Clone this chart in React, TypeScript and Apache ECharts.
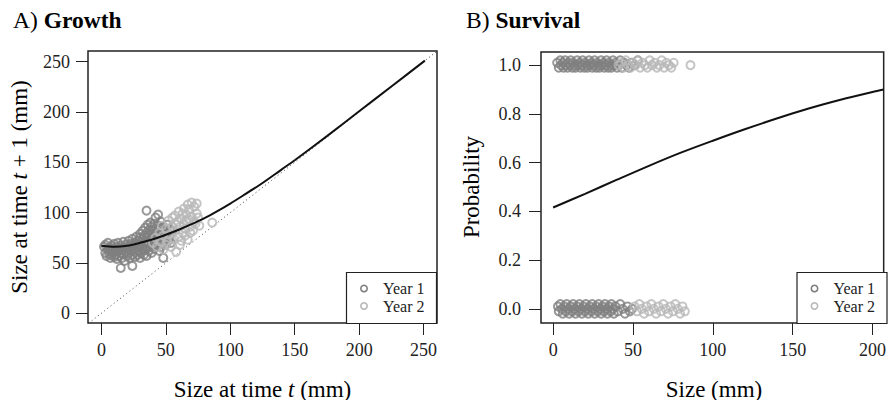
import React, { useEffect, useRef } from "react";
import * as echarts from "echarts";

// ---------- Data ----------
const growthYear1: number[][] = [
  [2, 66], [3, 60], [3, 68], [4, 57], [5, 63], [5, 70], [6, 59], [6, 65], [7, 55], [7, 62], [8, 67], [8, 58],
  [9, 64], [9, 61], [10, 56], [10, 69], [11, 63], [11, 58], [12, 66], [12, 54], [13, 61], [13, 70], [14, 57],
  [14, 64], [15, 45], [15, 60], [15, 67], [16, 55], [16, 63], [17, 59], [17, 71], [18, 52], [18, 65], [19, 61],
  [19, 68], [20, 57], [20, 64], [21, 60], [21, 72], [22, 55], [22, 66], [23, 62], [23, 69], [24, 47], [24, 58],
  [24, 74], [25, 63], [25, 67], [26, 56], [26, 70], [27, 61], [27, 76], [28, 65], [28, 58], [28, 72], [29, 68],
  [29, 62], [30, 55], [30, 75], [30, 79], [30, 66], [31, 60], [31, 71], [32, 64], [32, 82], [32, 74], [33, 58],
  [33, 69], [33, 77], [34, 63], [34, 85], [34, 72], [35, 102], [35, 67], [35, 80], [35, 57], [36, 75], [36, 70],
  [36, 88], [37, 62], [37, 78], [37, 83], [38, 66], [38, 73], [38, 90], [39, 60], [39, 79], [39, 86], [40, 68],
  [40, 75], [40, 82], [41, 64], [41, 71], [41, 89], [42, 77], [42, 84], [42, 95], [43, 67], [43, 80], [43, 74],
  [44, 98], [44, 70], [44, 87], [45, 62], [45, 78], [45, 84], [46, 72], [46, 91], [46, 66], [47, 80], [47, 75],
  [48, 55], [48, 86], [48, 70], [49, 78], [49, 83], [50, 68], [50, 74], [51, 88], [51, 80], [52, 72], [53, 84],
  [53, 77], [54, 70], [55, 82],
];
const growthYear2: number[][] = [
  [40, 70], [42, 75], [43, 66], [45, 80], [46, 71], [47, 87], [48, 63], [48, 77], [50, 84], [50, 68], [51, 72],
  [52, 92], [53, 78], [54, 66], [55, 86], [55, 95], [56, 74], [57, 97], [57, 82], [58, 61], [58, 88], [59, 91],
  [60, 76], [60, 101], [61, 86], [61, 68], [62, 72], [62, 94], [63, 80], [63, 99], [64, 104], [64, 89], [65, 77],
  [65, 84], [66, 98], [66, 92], [67, 108], [67, 73], [68, 93], [68, 103], [69, 86], [69, 80], [70, 110], [70, 96],
  [71, 82], [72, 106], [72, 91], [73, 89], [74, 109], [74, 99], [75, 95], [76, 87], [86, 90],
];
const growthCurveX = [0, 10, 20, 30, 40, 50, 60, 70, 80, 90, 100, 110, 123, 140, 150, 175, 200, 225, 251];
const growthCurveY = [67, 66, 67, 70, 73.5, 78, 83, 88.5, 94.5, 101.5, 109, 117, 127.7, 143, 152, 176, 200.7, 225.3, 251];
const oneToOne = [-10, 260];

const survYear1: number[][] = [
  [2.5, 1.01], [3.5, 0.99], [4.5, 1.02], [5, 1.0], [6, 1.01], [6.5, 0.99], [7.5, 1.02], [8, 1.0], [9, 0.99],
  [9.5, 1.01], [10.5, 1.0], [11, 1.02], [12, 0.99], [12.5, 1.01], [13.5, 1.0], [14, 0.99], [15, 1.02],
  [15.5, 1.0], [16.5, 1.01], [17, 0.99], [18, 1.0], [18.5, 1.02], [19.5, 0.99], [20, 1.01], [21, 1.0],
  [21.5, 0.99], [22.5, 1.02], [23, 1.0], [24, 1.01], [24.5, 0.99], [25.5, 1.0], [26, 1.02], [27, 0.99],
  [27.5, 1.01], [28.5, 1.0], [29, 0.99], [30, 1.02], [30.5, 1.0], [31.5, 1.01], [32, 0.99], [33, 1.0],
  [33.5, 1.02], [34.5, 0.99], [35, 1.01], [36, 1.0], [36.5, 0.99], [37.5, 1.02], [38, 1.0], [39, 1.01],
  [40, 0.99], [41, 1.0], [42, 1.02], [43, 0.99], [44.5, 1.01], [46, 1.0], [47.5, 0.99], [49, 1.01], [51, 1.0],
  [53, 1.02],
  [3, 0.01], [3.5, -0.01], [4.5, 0.02], [5.5, 0.0], [6, -0.02], [7, 0.01], [8, -0.01], [8.5, 0.02], [9.5, 0.0],
  [10, -0.02], [11, 0.01], [12, -0.01], [12.5, 0.02], [13.5, 0.0], [14, -0.02], [15, 0.01], [16, -0.01],
  [16.5, 0.02], [17.5, 0.0], [18, -0.02], [19, 0.01], [20, -0.01], [20.5, 0.02], [21.5, 0.0], [22, -0.02],
  [23, 0.01], [24, -0.01], [24.5, 0.02], [25.5, 0.0], [26, -0.02], [27, 0.01], [28, -0.01], [28.5, 0.02],
  [29.5, 0.0], [30, -0.02], [31, 0.01], [32, -0.01], [32.5, 0.02], [33.5, 0.0], [34, -0.02], [35, 0.01],
  [36, -0.01], [36.5, 0.02], [37.5, 0.0], [38, -0.02], [39, 0.01], [40.5, -0.01], [42, 0.02], [43.5, 0.0],
  [45, -0.02], [46.5, 0.01], [48, -0.01], [49.5, 0.0],
];
const survYear2: number[][] = [
  [41, 1.0], [42.5, 1.01], [44, 0.99], [45.5, 1.02], [47, 1.0], [48.5, 0.99], [50, 1.01], [51.5, 1.0],
  [53, 1.02], [54.5, 0.99], [56, 1.01], [57.5, 1.0], [59, 0.99], [60.5, 1.02], [62, 1.0], [63.5, 1.01],
  [65, 0.99], [66.5, 1.0], [68, 1.02], [69.5, 0.99], [71, 1.01], [72.5, 1.0], [74, 0.99], [75.5, 1.01],
  [86, 1.0],
  [51, 0.01], [52.5, -0.01], [54, 0.02], [55.5, 0.0], [57, -0.02], [58.5, 0.01], [60, -0.01], [61.5, 0.02],
  [63, 0.0], [64.5, -0.02], [66, 0.01], [67.5, -0.01], [69, 0.02], [70.5, 0.0], [72, -0.02], [73.5, 0.01],
  [75, -0.01], [76.5, 0.02], [78, 0.0], [79.5, -0.02], [81, 0.01], [82.5, -0.01],
];
const survCurveX = [0, 20, 40, 60, 80, 100, 120, 140, 160, 180, 200, 207];
const survCurveY = [0.416, 0.472, 0.53, 0.587, 0.641, 0.69, 0.737, 0.781, 0.822, 0.858, 0.89, 0.9];

const growthTicks = [0, 50, 100, 150, 200, 250];
const survXTicks = [0, 50, 100, 150, 200];
const survYTicks = [0, 0.2, 0.4, 0.6, 0.8, 1.0];
const legendNames = ["Year 1", "Year 2"];

// ---------- Styles ----------
const FONT = "Liberation Serif";
const C1 = "#808080";
const C2 = "#b8b8b8";
const INK = "#222";

export default function App() {
  const ref = useRef<HTMLDivElement>(null);
  useEffect(() => {
    if (!ref.current) return;
    const chart = echarts.init(ref.current, undefined, { renderer: "svg" });

    const axisCommon = (ticks: number[], margin: number, fmt?: (v: number) => string) => ({
      type: "value" as const,
      splitLine: { show: false },
      axisLine: { show: false, onZero: false },
      axisTick: { show: true, length: 12, customValues: ticks, lineStyle: { color: INK, width: 1 } },
      axisLabel: {
        customValues: ticks,
        margin,
        fontFamily: FONT,
        fontSize: 18,
        color: INK,
        formatter: fmt ? (v: number) => fmt(v) : undefined,
      },
    });

    const scatterStyle = (c: string) => ({
      symbol: "circle",
      symbolSize: 8,
      itemStyle: { color: "rgba(0,0,0,0)", borderColor: c, borderWidth: 2 },
    });

    const legend = (x: number) => [
      {
        type: "rect", z: 100,
        shape: { x, y: 272.5, width: 90, height: 51 },
        style: { fill: "#fff", stroke: INK, lineWidth: 1.2 },
      },
      {
        type: "circle", z: 101, shape: { cx: x + 17.5, cy: 288.5, r: 3.2 },
        style: { fill: "none", stroke: C1, lineWidth: 1.6 },
      },
      {
        type: "circle", z: 101, shape: { cx: x + 17.5, cy: 306, r: 3.2 },
        style: { fill: "none", stroke: C2, lineWidth: 1.6 },
      },
      {
        type: "text", z: 101,
        style: { x: x + 36.5, y: 288.5, text: legendNames[0], font: `16px "${FONT}"`, lineHeight: 15, fill: INK, verticalAlign: "middle" },
      },
      {
        type: "text", z: 101,
        style: { x: x + 36.5, y: 306, text: legendNames[1], font: `16px "${FONT}"`, lineHeight: 15, fill: INK, verticalAlign: "middle" },
      },
    ];

    const rich = {
      n: { fontFamily: FONT, fontSize: 23, color: INK },
      i: { fontFamily: FONT, fontSize: 23, fontStyle: "italic", color: INK },
    };
    const richTitle = {
      n: { fontFamily: FONT, fontSize: 23.5, color: INK },
      b: { fontFamily: FONT, fontSize: 23.5, fontWeight: "bold", color: INK },
    };

    chart.setOption({
      animation: false,
      backgroundColor: "#fff",
      grid: [
        { left: 88, top: 51, width: 349, height: 272, show: true, borderColor: INK, borderWidth: 1.5, backgroundColor: "transparent" },
        { left: 541, top: 52, width: 346, height: 271, show: true, borderColor: INK, borderWidth: 1.5, backgroundColor: "transparent" },
      ],
      xAxis: [
        { ...axisCommon(growthTicks, 18), gridIndex: 0, min: -10.4, max: 260.4 },
        { ...axisCommon(survXTicks, 18), gridIndex: 1, min: -7.6, max: 207 },
      ],
      yAxis: [
        { ...axisCommon(growthTicks, 18), gridIndex: 0, min: -9.7, max: 260.6 },
        { ...axisCommon(survYTicks, 20, (v) => v.toFixed(1)), gridIndex: 1, min: -0.058, max: 1.054 },
      ],
      series: [
        {
          type: "line", xAxisIndex: 0, yAxisIndex: 0, data: oneToOne.map((v) => [v, v]),
          symbol: "none", lineStyle: { color: "#444", width: 1, type: [1, 3] }, z: 1,
        },
        { type: "scatter", xAxisIndex: 0, yAxisIndex: 0, data: growthYear1, ...scatterStyle(C1), z: 2 },
        { type: "scatter", xAxisIndex: 0, yAxisIndex: 0, data: growthYear2, ...scatterStyle(C2), z: 3 },
        {
          type: "line", xAxisIndex: 0, yAxisIndex: 0, smooth: 0.25,
          data: growthCurveX.map((x, i) => [x, growthCurveY[i]]),
          symbol: "none", lineStyle: { color: "#111", width: 2 }, z: 4,
        },
        { type: "scatter", xAxisIndex: 1, yAxisIndex: 1, data: survYear1, ...scatterStyle(C1), z: 2 },
        { type: "scatter", xAxisIndex: 1, yAxisIndex: 1, data: survYear2, ...scatterStyle(C2), z: 3 },
        {
          type: "line", xAxisIndex: 1, yAxisIndex: 1, smooth: 0.3,
          data: survCurveX.map((x, i) => [x, survCurveY[i]]),
          symbol: "none", lineStyle: { color: "#111", width: 2 }, z: 4,
        },
      ],
      graphic: [
        {
          type: "text", z: 100,
          style: { x: 13, y: 20, text: "{n|A) }{b|Growth}", rich: richTitle, verticalAlign: "middle" },
        },
        {
          type: "text", z: 100,
          style: { x: 466, y: 20, text: "{n|B) }{b|Survival}", rich: richTitle, verticalAlign: "middle" },
        },
        {
          type: "text", z: 100,
          style: { x: 262.5, y: 389, text: "{n|Size at time }{i|t}{n| (mm)}", rich, align: "center", verticalAlign: "middle" },
        },
        {
          type: "text", z: 100,
          style: { x: 714, y: 389, text: "{n|Size (mm)}", rich, align: "center", verticalAlign: "middle" },
        },
        {
          type: "text", z: 100, x: 19, y: 187, rotation: Math.PI / 2,
          style: { x: 0, y: 0, text: "{n|Size at time }{i|t}{n| + 1 (mm)}", rich, align: "center", verticalAlign: "middle" },
        },
        {
          type: "text", z: 100, x: 471, y: 187, rotation: Math.PI / 2,
          style: { x: 0, y: 0, text: "{n|Probability}", rich, align: "center", verticalAlign: "middle" },
        },
        ...legend(346.5),
        ...legend(797),
      ],
    });
    return () => chart.dispose();
  }, []);
  return (
    <div
      ref={ref}
      style={{ position: "absolute", left: 0, top: 0, width: 889, height: 400 }}
    />
  );
}
